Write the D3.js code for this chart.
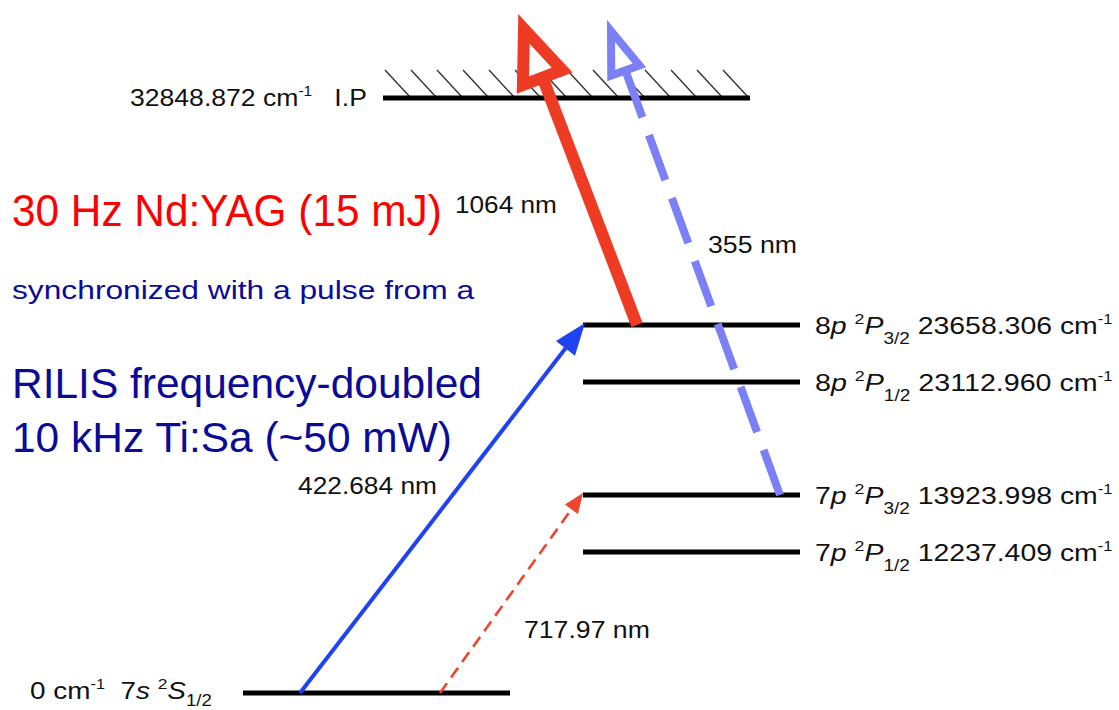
<!DOCTYPE html>
<html><head><meta charset="utf-8">
<script src="https://cdn.jsdelivr.net/npm/d3@7"></script>
<style>
body{margin:0;background:#fff}
svg{display:block}
text{font-family:"Liberation Sans", Arial, Helvetica, sans-serif}
</style>
</head><body>
<svg id="c" width="1119" height="710"></svg>
<script>
// ---------------- data ----------------
const levelEnergies = [0, 12237.409, 13923.998, 23112.960, 23658.306, 32848.872];
const levelEnergyText = ["0", "12237.409", "13923.998", "23112.960", "23658.306", "32848.872"];
const levelConfig = ["7", "7", "7", "8", "8", ""];
const levelOrbital = ["s", "p", "p", "p", "p", ""];
const levelTerm = ["S", "P", "P", "P", "P", ""];
const levelJ = ["1/2", "1/2", "3/2", "1/2", "3/2", ""];
const ipLabel = "I.P";
const transitionFrom = [0, 0, 4, 2];
const transitionTo = [4, 2, -1, -1];       // -1 : into the continuum
const wavelengthLabels = ["422.684 nm", "717.97 nm", "1064 nm", "355 nm"];
const laserNotes = ["30 Hz Nd:YAG (15 mJ)", "synchronized with a pulse from a", "RILIS frequency-doubled", "10 kHz Ti:Sa (~50 mW)"];

// ---------------- layout ----------------
const svg = d3.select("#c");
const yScale = d3.scaleLinear().domain(levelEnergies).range([693, 552, 495, 382, 325, 98]);
const levelX = [[243, 510], [583, 800], [583, 800], [583, 800], [583, 800], [383, 750]];
const IP = levelEnergies.length - 1;

// hatching above ionisation potential
const hatchX = d3.range(14).map(i => 385 + i * 26);
svg.append("g").selectAll("line").data(hatchX).join("line")
  .attr("x1", d => d).attr("y1", yScale(levelEnergies[IP]) - 28)
  .attr("x2", d => d + 25).attr("y2", yScale(levelEnergies[IP]) - 1)
  .attr("stroke", "#333").attr("stroke-width", 1.4);

// levels
svg.append("g").selectAll("line").data(levelEnergies).join("line")
  .attr("x1", (d, i) => levelX[i][0]).attr("x2", (d, i) => levelX[i][1])
  .attr("y1", d => yScale(d)).attr("y2", d => yScale(d))
  .attr("stroke", "#000").attr("stroke-width", 5);

function fitWidth(sel, x, w) {
  const bb = sel.node().getBBox();
  const s = w / bb.width;
  sel.attr("transform", `translate(${x},0) scale(${s},1) translate(${-x},0)`);
}

// level labels (right)
const lab = { size: 24, sup: 15, sub: 16, up: 10, down: 10 };
for (let i = 1; i < IP; i++) {
  const y = yScale(levelEnergies[i]) + 9;
  const t = svg.append("text").attr("x", 815).attr("y", y).attr("font-size", lab.size).attr("fill", "#111");
  t.append("tspan").text(levelConfig[i]);
  t.append("tspan").attr("font-style", "italic").text(levelOrbital[i]);
  t.append("tspan").text("\u00a0");
  t.append("tspan").attr("font-size", lab.sup).attr("dy", -lab.up).text("2");
  t.append("tspan").attr("font-style", "italic").attr("dy", lab.up).text(levelTerm[i]);
  t.append("tspan").attr("font-size", lab.sub).attr("dy", lab.down).text(levelJ[i]);
  t.append("tspan").attr("dy", -lab.down).text("\u00a0" + levelEnergyText[i] + " cm");
  t.append("tspan").attr("font-size", 14).attr("dy", -lab.up).text("-1");
  fitWidth(t, 815, 298);
}
// ground label
{
  const y = yScale(levelEnergies[0]) + 6;
  const t = svg.append("text").attr("x", 30).attr("y", y).attr("font-size", lab.size).attr("fill", "#111");
  t.append("tspan").text(levelEnergyText[0] + " cm");
  t.append("tspan").attr("font-size", 14).attr("dy", -lab.up).text("-1");
  t.append("tspan").attr("dy", lab.up).text("\u00a0\u00a0" + levelConfig[0]);
  t.append("tspan").attr("font-style", "italic").text(levelOrbital[0]);
  t.append("tspan").text("\u00a0");
  t.append("tspan").attr("font-size", lab.sup).attr("dy", -lab.up).text("2");
  t.append("tspan").attr("font-style", "italic").attr("dy", lab.up).text(levelTerm[0]);
  t.append("tspan").attr("font-size", lab.sub).attr("dy", 7).text(levelJ[0]);
  fitWidth(t, 30, 182);
}
// IP label
{
  const y = yScale(levelEnergies[IP]) + 8;
  const t = svg.append("text").attr("x", 130).attr("y", y).attr("font-size", lab.size).attr("fill", "#111");
  t.append("tspan").text(levelEnergyText[IP] + " cm");
  t.append("tspan").attr("font-size", 14).attr("dy", -lab.up).text("-1");
  t.append("tspan").attr("dy", lab.up).text("\u00a0\u00a0\u00a0" + ipLabel);
  fitWidth(t, 130, 237);
}

// ---------------- transitions ----------------
const arrowStartX = [300, 440, 637, 780];
const continuumTipY = [0, 0, 29, 31];
const arrowTipX = [585, 583, 524, 611];
const arrowStyle = [
  { color: "#1f43f2", w: 4, dash: null, head: "fill", hl: 32, hw: 12 },
  { color: "#ee4430", w: 2.6, dash: "12 7", head: "fill", hl: 20, hw: 8 },
  { color: "#ee3b24", w: 12, dash: null, head: "open", hl: 52, hw: 21 },
  { color: "#7c80f6", w: 8, dash: "48 19", head: "open", hl: 42, hw: 15 }
];
const ag = svg.append("g");
transitionFrom.forEach((f, i) => {
  const st = arrowStyle[i];
  const x0 = arrowStartX[i], y0 = yScale(levelEnergies[f]);
  const x1 = arrowTipX[i];
  const y1 = transitionTo[i] >= 0 ? yScale(levelEnergies[transitionTo[i]]) - 2 : continuumTipY[i];
  const dx = x1 - x0, dy = y1 - y0, L = Math.hypot(dx, dy);
  const ux = dx / L, uy = dy / L, nx = -uy, ny = ux;
  const bx = x1 - ux * st.hl, by = y1 - uy * st.hl;
  const shaftEnd = st.head === "fill" ? st.hl * 0.7 : st.hl;
  ag.append("line")
    .attr("x1", x0).attr("y1", y0)
    .attr("x2", x1 - ux * shaftEnd).attr("y2", y1 - uy * shaftEnd)
    .attr("stroke", st.color).attr("stroke-width", st.w)
    .attr("stroke-dasharray", st.dash);
  const pts = [[x1, y1], [bx + nx * st.hw, by + ny * st.hw], [bx - nx * st.hw, by - ny * st.hw]];
  ag.append("path").attr("d", d3.line()(pts) + "Z")
    .attr("fill", st.head === "fill" ? st.color : "#fff")
    .attr("stroke", st.head === "fill" ? "none" : st.color)
    .attr("stroke-width", st.head === "fill" ? 0 : st.w)
    .attr("stroke-linejoin", "miter");
});

// wavelength labels
const wlX = [298, 524, 455, 708], wlY = [494, 638, 213, 253], wlW = [139, 126, 102, 89];
wavelengthLabels.forEach((s, i) => {
  const t = svg.append("text").attr("x", wlX[i]).attr("y", wlY[i]).attr("font-size", 23).attr("fill", "#111").text(s);
  fitWidth(t, wlX[i], wlW[i]);
});

// laser notes
const noteY = [226, 299, 398, 452], noteSize = [44, 26, 42, 42], noteW = [430, 463, 470, 440];
const noteColor = ["#ff0000", "#0b0b98", "#0b0b98", "#0b0b98"];
laserNotes.forEach((s, i) => {
  const t = svg.append("text").attr("x", 12).attr("y", noteY[i]).attr("font-size", noteSize[i]).attr("fill", noteColor[i]).text(s);
  fitWidth(t, 12, noteW[i]);
});
</script>
</body></html>
